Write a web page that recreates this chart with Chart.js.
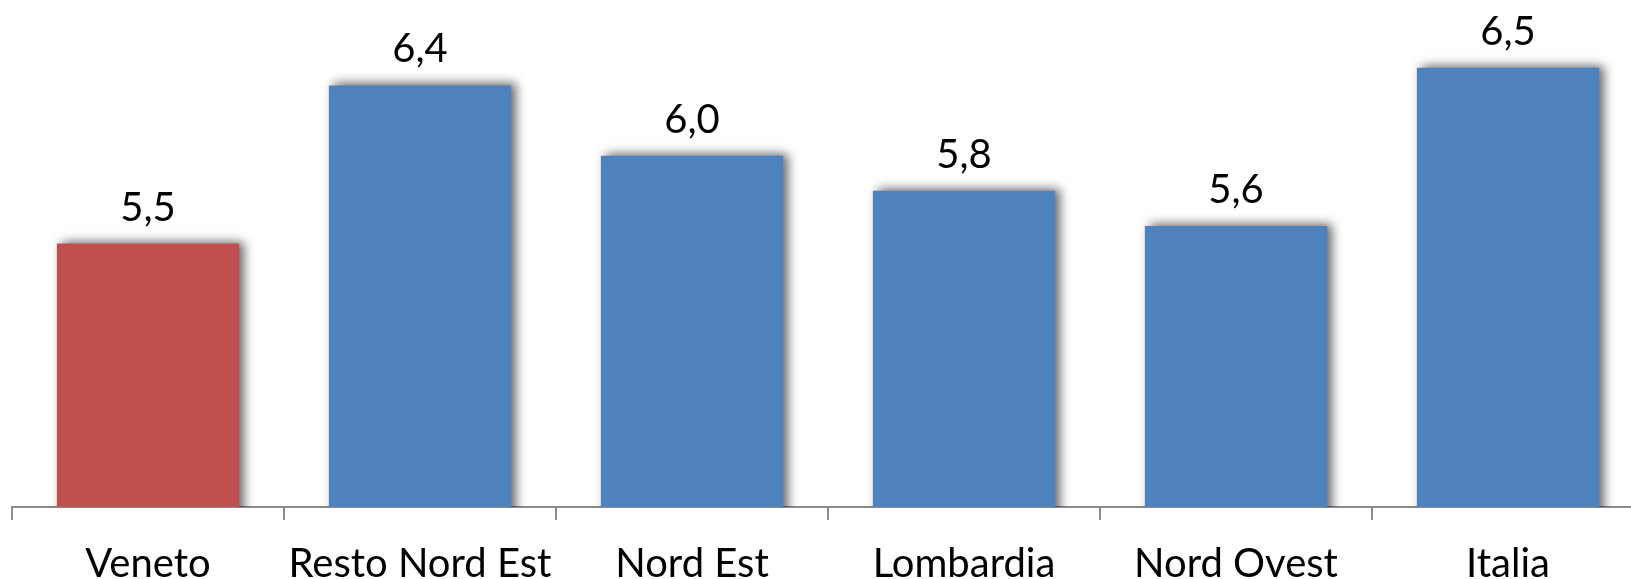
<!DOCTYPE html>
<html>
<head>
<meta charset="utf-8">
<script src="https://cdn.jsdelivr.net/npm/chart.js@4.4.1/dist/chart.umd.min.js"></script>
<style>
  html, body { margin: 0; padding: 0; background: #fff; overflow: hidden; }
  #wrap { position: absolute; left: 0; top: -20px; width: 1660px; height: 620px; }
</style>
</head>
<body>
<div id="wrap"><canvas id="myChart"></canvas></div>
<script>
const categories = ['Veneto', 'Resto Nord Est', 'Nord Est', 'Lombardia', 'Nord Ovest', 'Italia'];
const values = [5.5, 6.4, 6.0, 5.8, 5.6, 6.5];
const highlight = 'Veneto';

const RED = '#C0504D';
const BLUE = '#4F81BD';
const AXIS = '#8c8c8c';

// drop shadow behind the bars, like the office chart
const barShadow = {
  id: 'barShadow',
  beforeDatasetsDraw(chart) {
    const c = chart.ctx;
    c.save();
    c.shadowColor = 'rgba(0,0,0,0.6)';
    c.shadowBlur = 10;
    c.shadowOffsetX = 5;
    c.shadowOffsetY = -2;
  },
  afterDatasetsDraw(chart) {
    chart.ctx.restore();
  }
};

// value labels on top of each bar
const valueLabels = {
  id: 'valueLabels',
  afterDatasetsDraw(chart) {
    const c = chart.ctx;
    const meta = chart.getDatasetMeta(0);
    c.save();
    c.font = '40px Lato';
    c.fillStyle = '#000';
    c.textAlign = 'center';
    c.textBaseline = 'alphabetic';
    meta.data.forEach(function(bar, i) {
      const txt = values[i].toFixed(1).replace('.', ',');
      c.fillText(txt, bar.x, bar.y - 23);
    });
    c.restore();
  }
};

var ctx = document.getElementById('myChart').getContext('2d');
var chart = new Chart(ctx, {
  type: 'bar',
  data: {
    labels: categories,
    datasets: [{
      data: values,
      backgroundColor: categories.map(c => c === highlight ? RED : BLUE),
      borderWidth: 0,
      barPercentage: 0.67,
      categoryPercentage: 1
    }]
  },
  options: {
    responsive: true,
    maintainAspectRatio: false,
    animation: false,
    layout: { padding: { left: 12, right: 16, top: 0, bottom: 0 } },
    plugins: {
      legend: { display: false },
      tooltip: { enabled: false }
    },
    scales: {
      y: { display: false, min: 4, max: 7 },
      x: {
        grid: {
          offset: true,
          drawOnChartArea: false,
          drawTicks: true,
          tickLength: 13,
          color: AXIS,
          lineWidth: 2
        },
        border: { display: true, color: AXIS, width: 2 },
        ticks: {
          color: '#000',
          font: { family: 'Lato', size: 40 },
          padding: 20,
          maxRotation: 0,
          autoSkip: false
        },
        afterFit: function(scale) { scale.height = 93; }
      }
    }
  },
  plugins: [barShadow, valueLabels]
});
</script>
</body>
</html>
